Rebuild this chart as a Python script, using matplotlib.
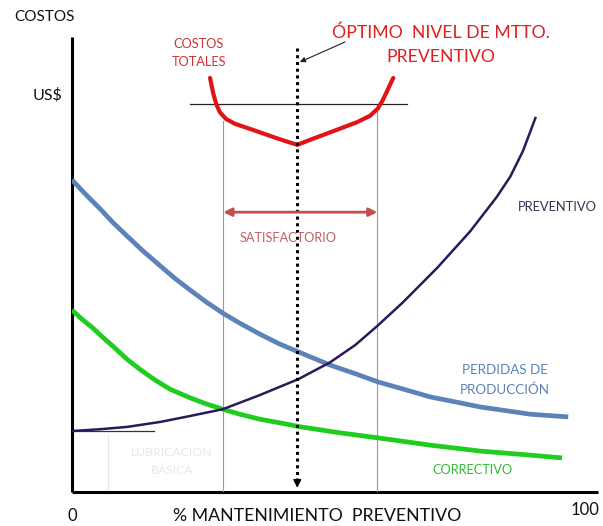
import matplotlib
matplotlib.use("Agg")
import matplotlib.pyplot as plt

plt.rcParams['font.family'] = ['Lato', 'DejaVu Sans']

# ---- data (x: % mantenimiento preventivo, y: costos) ----
perdidas_x = [0, 2.5, 5.5, 8.0, 10.7, 13.8, 17.2, 20.1, 23.0, 26.1, 29.4, 32.7, 36.6, 40.5,
              44.1, 50.3, 55.2, 59.6, 64.9, 69.8, 74.7, 79.5, 84.4, 89.3, 96.7]
perdidas_y = [68.6, 65.6, 62.2, 59.2, 56.3, 53.0, 49.7, 46.9, 44.4, 41.8, 39.3, 37.1, 34.7, 32.5,
              30.8, 27.9, 26.0, 24.2, 22.5, 20.9, 19.8, 18.7, 17.9, 17.1, 16.5]

correctivo_x = [0, 1.8, 3.9, 5.8, 8.0, 10.7, 13.3, 16.2, 19.1, 23.0, 26.3, 29.4, 32.7, 36.6,
                40.5, 44.1, 52.2, 59.6, 69.8, 79.5, 89.3, 95.5]
correctivo_y = [40.0, 38.1, 36.2, 34.2, 32.0, 29.2, 26.9, 24.6, 22.6, 20.7, 19.3, 18.2, 17.1, 16.0,
                15.2, 14.4, 13.0, 11.9, 10.3, 9.0, 8.1, 7.5]

preventivo_x = [0, 5.5, 10.7, 17.2, 23.0, 29.4, 36.6, 44.1, 50.3, 55.2, 59.6, 64.5, 71.2,
                77.6, 82.8, 85.4, 87.9, 90.3]
preventivo_y = [13.4, 13.8, 14.3, 15.4, 16.7, 18.2, 21.3, 24.8, 28.5, 32.3, 36.6, 41.7, 49.3,
                57.3, 64.9, 69.3, 75.0, 82.2]

totales_x = [26.9, 27.5, 28.1, 28.8, 30.0, 31.8, 34.7, 38.0, 41.1, 43.9, 46.4, 50.9, 55.6,
             58.1, 59.6, 60.6, 61.6, 62.6]
totales_y = [91.0, 87.7, 85.3, 83.5, 82.0, 80.9, 79.8, 78.5, 77.3, 76.3, 77.4, 79.3, 81.3,
             82.7, 84.3, 86.2, 88.6, 91.0]

optimo_x = 43.9
satisf_lo, satisf_hi = 29.5, 59.5
us_level = 85.3
satisf_y = 61.5
lubric_level = 13.4

fig = plt.figure(figsize=(6.03, 5.26), dpi=100)
ax = fig.add_axes([72/603, 34/526, 526/603, 455/526])
ax.set_xlim(0, 102.5)
ax.set_ylim(0, 100)
ax.axis('off')

# axes lines
ax.plot([0, 0], [0, 100], color='black', lw=2.2, solid_capstyle='butt', clip_on=False)
ax.plot([0, 102.5], [0, 0], color='black', lw=2.2, solid_capstyle='butt', clip_on=False)

# reference lines
ax.plot([satisf_lo, satisf_lo], [0, 81.6], color='#999999', lw=0.8)
ax.plot([satisf_hi, satisf_hi], [0, 84.0], color='#999999', lw=0.8)
ax.plot([23.0, 65.3], [us_level, us_level], color='#222222', lw=0.9)
ax.plot([0, 16.0], [lubric_level, lubric_level], color='#333333', lw=0.9)
ax.plot([7.0, 7.0], [0.5, 12.5], color='#e6e6e6', lw=0.8)

# curves
ax.plot(perdidas_x, perdidas_y, color='#5b83b8', lw=3.4, solid_capstyle='butt', solid_joinstyle='round')
ax.plot(correctivo_x, correctivo_y, color='#1fcc1f', lw=3.4, solid_capstyle='butt', solid_joinstyle='round')
ax.plot(preventivo_x, preventivo_y, color='#2a1a5a', lw=1.8, solid_joinstyle='round')
ax.plot(totales_x, totales_y, color='#e01414', lw=3.0, solid_capstyle='round', solid_joinstyle='round')

# optimum dotted line with arrow
ax.plot([optimo_x, optimo_x], [97.6, 2.5], color='black', lw=2.2, linestyle=(0, (1, 1.2)))
ax.annotate('', xy=(optimo_x, 0.3), xytext=(optimo_x, 3.5),
            arrowprops=dict(arrowstyle='-|>', color='black', lw=1, mutation_scale=12))

# satisfactorio double arrow
ax.annotate('', xy=(satisf_lo, satisf_y), xytext=(satisf_hi, satisf_y),
            arrowprops=dict(arrowstyle='<|-|>', color='#c0504d', lw=2.0, mutation_scale=12,
                            shrinkA=0, shrinkB=0))

# pointer arrow to optimum
ax.annotate('', xy=(44.4, 94.5), xytext=(53.2, 98.9),
            arrowprops=dict(arrowstyle='-|>', color='#222222', lw=0.8, mutation_scale=8,
                            shrinkA=0, shrinkB=0))

def ftxt(px, py, s, **kw):
    fig.text(px/603, 1 - py/526, s, **kw)

ftxt(45, 17, 'COSTOS', fontsize=11, ha='center', va='center', color='#111111')
ftxt(48, 95, 'US$', fontsize=11.5, ha='center', va='center', color='#111111')
ftxt(72, 516, '0', fontsize=12, ha='center', va='center', color='#111111')
ftxt(585, 510, '100', fontsize=12, ha='center', va='center', color='#111111')
ftxt(317, 516, '% MANTENIMIENTO  PREVENTIVO', fontsize=12.8, ha='center', va='center', color='#111111')

ftxt(441, 33, 'ÓPTIMO  NIVEL DE MTTO.', fontsize=12.7, ha='center', va='center', color='#e02020')
ftxt(441, 57, 'PREVENTIVO', fontsize=12.7, ha='center', va='center', color='#e02020')
ftxt(199, 44, 'COSTOS', fontsize=9.2, ha='center', va='center', color='#cc3333')
ftxt(199, 62, 'TOTALES', fontsize=9.2, ha='center', va='center', color='#cc3333')
ftxt(288, 238, 'SATISFACTORIO', fontsize=9.2, ha='center', va='center', color='#c06060')
ftxt(557, 207, 'PREVENTIVO', fontsize=9.3, ha='center', va='center', color='#3a3050')
ftxt(505, 370, 'PERDIDAS DE', fontsize=9.6, ha='center', va='center', color='#5b83b8')
ftxt(505, 390, 'PRODUCCIÓN', fontsize=9.6, ha='center', va='center', color='#5b83b8')
ftxt(472, 470, 'CORRECTIVO', fontsize=9.2, ha='center', va='center', color='#33bb33')
ftxt(172, 452, 'LUBRICACION', fontsize=8.8, ha='center', va='center', color='#e8e8e8')
ftxt(172, 471, 'BÁSICA', fontsize=8.8, ha='center', va='center', color='#e8e8e8')

fig.savefig('out.png', dpi=100)
